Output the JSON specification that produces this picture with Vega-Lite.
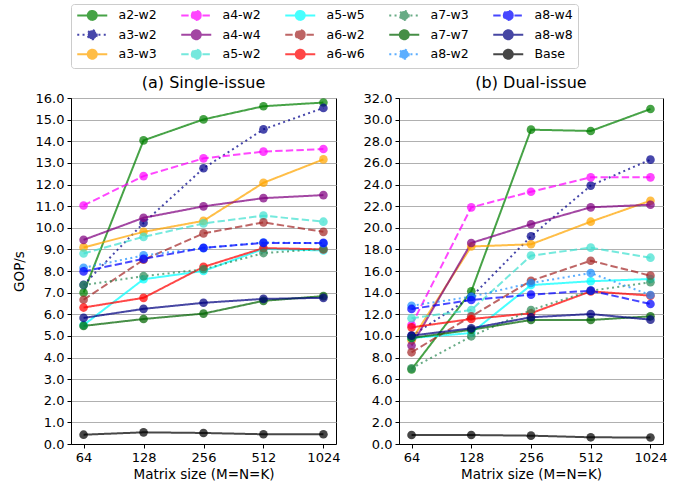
{
  "$schema": "https://vega.github.io/schema/vega-lite/v6.json",
  "padding": {"left": 11, "right": 5, "top": 3, "bottom": 5},
  "datasets": {
    "d": [
      {"p":"a","s":"a2-w2","m":64,"v":7.0},{"p":"a","s":"a2-w2","m":128,"v":14.04},{"p":"a","s":"a2-w2","m":256,"v":15.01},{"p":"a","s":"a2-w2","m":512,"v":15.62},{"p":"a","s":"a2-w2","m":1024,"v":15.79},
      {"p":"a","s":"a3-w2","m":64,"v":7.36},{"p":"a","s":"a3-w2","m":128,"v":10.22},{"p":"a","s":"a3-w2","m":256,"v":12.75},{"p":"a","s":"a3-w2","m":512,"v":14.55},{"p":"a","s":"a3-w2","m":1024,"v":15.54},
      {"p":"a","s":"a3-w3","m":64,"v":9.09},{"p":"a","s":"a3-w3","m":128,"v":9.81},{"p":"a","s":"a3-w3","m":256,"v":10.32},{"p":"a","s":"a3-w3","m":512,"v":12.08},{"p":"a","s":"a3-w3","m":1024,"v":13.16},
      {"p":"a","s":"a4-w2","m":64,"v":11.03},{"p":"a","s":"a4-w2","m":128,"v":12.39},{"p":"a","s":"a4-w2","m":256,"v":13.21},{"p":"a","s":"a4-w2","m":512,"v":13.52},{"p":"a","s":"a4-w2","m":1024,"v":13.64},
      {"p":"a","s":"a4-w4","m":64,"v":9.44},{"p":"a","s":"a4-w4","m":128,"v":10.46},{"p":"a","s":"a4-w4","m":256,"v":10.99},{"p":"a","s":"a4-w4","m":512,"v":11.37},{"p":"a","s":"a4-w4","m":1024,"v":11.51},
      {"p":"a","s":"a5-w2","m":64,"v":8.81},{"p":"a","s":"a5-w2","m":128,"v":9.58},{"p":"a","s":"a5-w2","m":256,"v":10.2},{"p":"a","s":"a5-w2","m":512,"v":10.56},{"p":"a","s":"a5-w2","m":1024,"v":10.28},
      {"p":"a","s":"a5-w5","m":64,"v":5.5},{"p":"a","s":"a5-w5","m":128,"v":7.62},{"p":"a","s":"a5-w5","m":256,"v":8.0},{"p":"a","s":"a5-w5","m":512,"v":9.02},{"p":"a","s":"a5-w5","m":1024,"v":8.95},
      {"p":"a","s":"a6-w2","m":64,"v":6.67},{"p":"a","s":"a6-w2","m":128,"v":8.52},{"p":"a","s":"a6-w2","m":256,"v":9.74},{"p":"a","s":"a6-w2","m":512,"v":10.25},{"p":"a","s":"a6-w2","m":1024,"v":9.81},
      {"p":"a","s":"a6-w6","m":64,"v":6.31},{"p":"a","s":"a6-w6","m":128,"v":6.76},{"p":"a","s":"a6-w6","m":256,"v":8.19},{"p":"a","s":"a6-w6","m":512,"v":9.06},{"p":"a","s":"a6-w6","m":1024,"v":9.0},
      {"p":"a","s":"a7-w3","m":64,"v":7.35},{"p":"a","s":"a7-w3","m":128,"v":7.76},{"p":"a","s":"a7-w3","m":256,"v":8.08},{"p":"a","s":"a7-w3","m":512,"v":8.83},{"p":"a","s":"a7-w3","m":1024,"v":9.02},
      {"p":"a","s":"a7-w7","m":64,"v":5.46},{"p":"a","s":"a7-w7","m":128,"v":5.78},{"p":"a","s":"a7-w7","m":256,"v":6.03},{"p":"a","s":"a7-w7","m":512,"v":6.62},{"p":"a","s":"a7-w7","m":1024,"v":6.84},
      {"p":"a","s":"a8-w2","m":64,"v":8.15},{"p":"a","s":"a8-w2","m":128,"v":8.72},{"p":"a","s":"a8-w2","m":256,"v":9.06},{"p":"a","s":"a8-w2","m":512,"v":9.32},{"p":"a","s":"a8-w2","m":1024,"v":9.28},
      {"p":"a","s":"a8-w4","m":64,"v":7.98},{"p":"a","s":"a8-w4","m":128,"v":8.56},{"p":"a","s":"a8-w4","m":256,"v":9.07},{"p":"a","s":"a8-w4","m":512,"v":9.3},{"p":"a","s":"a8-w4","m":1024,"v":9.3},
      {"p":"a","s":"a8-w8","m":64,"v":5.83},{"p":"a","s":"a8-w8","m":128,"v":6.25},{"p":"a","s":"a8-w8","m":256,"v":6.53},{"p":"a","s":"a8-w8","m":512,"v":6.71},{"p":"a","s":"a8-w8","m":1024,"v":6.76},
      {"p":"a","s":"Base","m":64,"v":0.43},{"p":"a","s":"Base","m":128,"v":0.54},{"p":"a","s":"Base","m":256,"v":0.51},{"p":"a","s":"Base","m":512,"v":0.45},{"p":"a","s":"Base","m":1024,"v":0.45},

      {"p":"b","s":"a2-w2","m":64,"v":6.9},{"p":"b","s":"a2-w2","m":128,"v":14.12},{"p":"b","s":"a2-w2","m":256,"v":29.07},{"p":"b","s":"a2-w2","m":512,"v":28.95},{"p":"b","s":"a2-w2","m":1024,"v":30.98},
      {"p":"b","s":"a3-w2","m":64,"v":10.0},{"p":"b","s":"a3-w2","m":128,"v":13.6},{"p":"b","s":"a3-w2","m":256,"v":19.21},{"p":"b","s":"a3-w2","m":512,"v":23.9},{"p":"b","s":"a3-w2","m":1024,"v":26.3},
      {"p":"b","s":"a3-w3","m":64,"v":9.6},{"p":"b","s":"a3-w3","m":128,"v":18.27},{"p":"b","s":"a3-w3","m":256,"v":18.47},{"p":"b","s":"a3-w3","m":512,"v":20.56},{"p":"b","s":"a3-w3","m":1024,"v":22.5},
      {"p":"b","s":"a4-w2","m":64,"v":11.0},{"p":"b","s":"a4-w2","m":128,"v":21.89},{"p":"b","s":"a4-w2","m":256,"v":23.33},{"p":"b","s":"a4-w2","m":512,"v":24.66},{"p":"b","s":"a4-w2","m":1024,"v":24.66},
      {"p":"b","s":"a4-w4","m":64,"v":9.1},{"p":"b","s":"a4-w4","m":128,"v":18.59},{"p":"b","s":"a4-w4","m":256,"v":20.32},{"p":"b","s":"a4-w4","m":512,"v":21.89},{"p":"b","s":"a4-w4","m":1024,"v":22.13},
      {"p":"b","s":"a5-w2","m":64,"v":11.63},{"p":"b","s":"a5-w2","m":128,"v":12.39},{"p":"b","s":"a5-w2","m":256,"v":17.42},{"p":"b","s":"a5-w2","m":512,"v":18.16},{"p":"b","s":"a5-w2","m":1024,"v":17.23},
      {"p":"b","s":"a5-w5","m":64,"v":9.8},{"p":"b","s":"a5-w5","m":128,"v":10.27},{"p":"b","s":"a5-w5","m":256,"v":14.7},{"p":"b","s":"a5-w5","m":512,"v":15.05},{"p":"b","s":"a5-w5","m":1024,"v":15.26},
      {"p":"b","s":"a6-w2","m":64,"v":8.48},{"p":"b","s":"a6-w2","m":128,"v":11.81},{"p":"b","s":"a6-w2","m":256,"v":15.1},{"p":"b","s":"a6-w2","m":512,"v":16.95},{"p":"b","s":"a6-w2","m":1024,"v":15.57},
      {"p":"b","s":"a6-w6","m":64,"v":10.79},{"p":"b","s":"a6-w6","m":128,"v":11.56},{"p":"b","s":"a6-w6","m":256,"v":12.09},{"p":"b","s":"a6-w6","m":512,"v":14.12},{"p":"b","s":"a6-w6","m":1024,"v":13.72},
      {"p":"b","s":"a7-w3","m":64,"v":7.0},{"p":"b","s":"a7-w3","m":128,"v":9.96},{"p":"b","s":"a7-w3","m":256,"v":12.39},{"p":"b","s":"a7-w3","m":512,"v":14.18},{"p":"b","s":"a7-w3","m":1024,"v":14.96},
      {"p":"b","s":"a7-w7","m":64,"v":9.8},{"p":"b","s":"a7-w7","m":128,"v":10.57},{"p":"b","s":"a7-w7","m":256,"v":11.47},{"p":"b","s":"a7-w7","m":512,"v":11.47},{"p":"b","s":"a7-w7","m":1024,"v":11.81},
      {"p":"b","s":"a8-w2","m":64,"v":12.79},{"p":"b","s":"a8-w2","m":128,"v":13.62},{"p":"b","s":"a8-w2","m":256,"v":14.89},{"p":"b","s":"a8-w2","m":512,"v":15.81},{"p":"b","s":"a8-w2","m":1024,"v":13.78},
      {"p":"b","s":"a8-w4","m":64,"v":12.49},{"p":"b","s":"a8-w4","m":128,"v":13.32},{"p":"b","s":"a8-w4","m":256,"v":13.81},{"p":"b","s":"a8-w4","m":512,"v":14.18},{"p":"b","s":"a8-w4","m":1024,"v":12.95},
      {"p":"b","s":"a8-w8","m":64,"v":10.02},{"p":"b","s":"a8-w8","m":128,"v":10.7},{"p":"b","s":"a8-w8","m":256,"v":11.72},{"p":"b","s":"a8-w8","m":512,"v":12.02},{"p":"b","s":"a8-w8","m":1024,"v":11.5},
      {"p":"b","s":"Base","m":64,"v":0.83},{"p":"b","s":"Base","m":128,"v":0.83},{"p":"b","s":"Base","m":256,"v":0.77},{"p":"b","s":"Base","m":512,"v":0.62},{"p":"b","s":"Base","m":1024,"v":0.6}
    ]
  },
  "hconcat": [
    {
      "width": 265, "height": 346,
      "title": "(a) Single-issue",
      "data": {"name": "d"},
      "transform": [{"filter": "datum.p === 'a'"}],
      "mark": {"type": "line", "strokeWidth": 2, "opacity": 0.72, "point": {"filled": true, "size": 75, "opacity": 0.72}},
      "encoding": {
        "x": {"field": "m", "type": "ordinal", "sort": "ascending", "scale": {"padding": 0.21}, "axis": {"title": "Matrix size (M=N=K)", "labelAngle": 0, "grid": false}},
        "y": {"field": "v", "type": "quantitative", "scale": {"domain": [0, 16], "nice": false}, "axis": {"title": "GOP/s", "titlePadding": 9, "values": [0,1,2,3,4,5,6,7,8,9,10,11,12,13,14,15,16], "format": ".1f"}},
        "color": {"field": "s", "type": "nominal", "legend": {"title": null},
          "scale": {"domain": ["a2-w2","a4-w2","a5-w5","a7-w3","a8-w4","a3-w2","a4-w4","a6-w2","a7-w7","a8-w8","a3-w3","a5-w2","a6-w6","a8-w2","Base"],
                    "range": ["#008000","#FF00FF","#00FFFF","#2E8B57","#0000FF","#00008B","#800080","#A52A2A","#006400","#000080","#FFA500","#40E0D0","#FF0000","#1E90FF","#000000"]}},
        "strokeDash": {"field": "s", "type": "nominal", "legend": {"title": null},
          "scale": {"domain": ["a2-w2","a4-w2","a5-w5","a7-w3","a8-w4","a3-w2","a4-w4","a6-w2","a7-w7","a8-w8","a3-w3","a5-w2","a6-w6","a8-w2","Base"],
                    "range": [[1,0],[7.4,3.2],[1,0],[2,3.3],[7.4,3.2],[2,3.3],[1,0],[7.4,3.2],[1,0],[1,0],[1,0],[7.4,3.2],[1,0],[2,3.3],[1,0]]}}
      }
    },
    {
      "width": 264, "height": 346,
      "title": "(b) Dual-issue",
      "data": {"name": "d"},
      "transform": [{"filter": "datum.p === 'b'"}],
      "mark": {"type": "line", "strokeWidth": 2, "opacity": 0.72, "point": {"filled": true, "size": 75, "opacity": 0.72}},
      "encoding": {
        "x": {"field": "m", "type": "ordinal", "sort": "ascending", "scale": {"padding": 0.21}, "axis": {"title": "Matrix size (M=N=K)", "labelAngle": 0, "grid": false}},
        "y": {"field": "v", "type": "quantitative", "scale": {"domain": [0, 32], "nice": false}, "axis": {"title": null, "values": [0,2,4,6,8,10,12,14,16,18,20,22,24,26,28,30,32], "format": ".1f"}},
        "color": {"field": "s", "type": "nominal", "legend": {"title": null},
          "scale": {"domain": ["a2-w2","a4-w2","a5-w5","a7-w3","a8-w4","a3-w2","a4-w4","a6-w2","a7-w7","a8-w8","a3-w3","a5-w2","a6-w6","a8-w2","Base"],
                    "range": ["#008000","#FF00FF","#00FFFF","#2E8B57","#0000FF","#00008B","#800080","#A52A2A","#006400","#000080","#FFA500","#40E0D0","#FF0000","#1E90FF","#000000"]}},
        "strokeDash": {"field": "s", "type": "nominal", "legend": {"title": null},
          "scale": {"domain": ["a2-w2","a4-w2","a5-w5","a7-w3","a8-w4","a3-w2","a4-w4","a6-w2","a7-w7","a8-w8","a3-w3","a5-w2","a6-w6","a8-w2","Base"],
                    "range": [[1,0],[7.4,3.2],[1,0],[2,3.3],[7.4,3.2],[2,3.3],[1,0],[7.4,3.2],[1,0],[1,0],[1,0],[7.4,3.2],[1,0],[2,3.3],[1,0]]}}
      }
    }
  ],
  "spacing": 21,
  "resolve": {"scale": {"y": "independent", "x": "independent"}},
  "config": {
    "font": "DejaVu Sans",
    "view": {"stroke": "black", "strokeWidth": 1},
    "title": {"fontSize": 16, "fontWeight": "normal", "color": "black", "offset": 1},
    "axis": {"labelFontSize": 13, "titleFontSize": 13.5, "titleFontWeight": "normal", "labelColor": "black", "titleColor": "black", "tickColor": "black", "domainColor": "black", "gridColor": "#b0b0b0", "gridWidth": 1, "tickSize": 4, "labelPadding": 3, "titlePadding": 3},
    "legend": {
      "orient": "top",
      "columns": 5,
      "direction": "horizontal",
      "symbolType": "M-3,0H3M0.9,0A0.9,0.9,0,1,1,-0.9,0A0.9,0.9,0,1,1,0.9,0Z",
      "symbolSize": 100,
      "symbolOffset": 10,
      "symbolStrokeWidth": 2,
      "labelFontSize": 12.5,
      "labelColor": "black",
      "labelOffset": 20,
      "columnPadding": 20,
      "rowPadding": 1.5,
      "padding": 5,
      "strokeColor": "#cccccc",
      "cornerRadius": 3,
      "fillColor": "white",
      "offset": 6
    }
  },
  "encoding": {}
}
